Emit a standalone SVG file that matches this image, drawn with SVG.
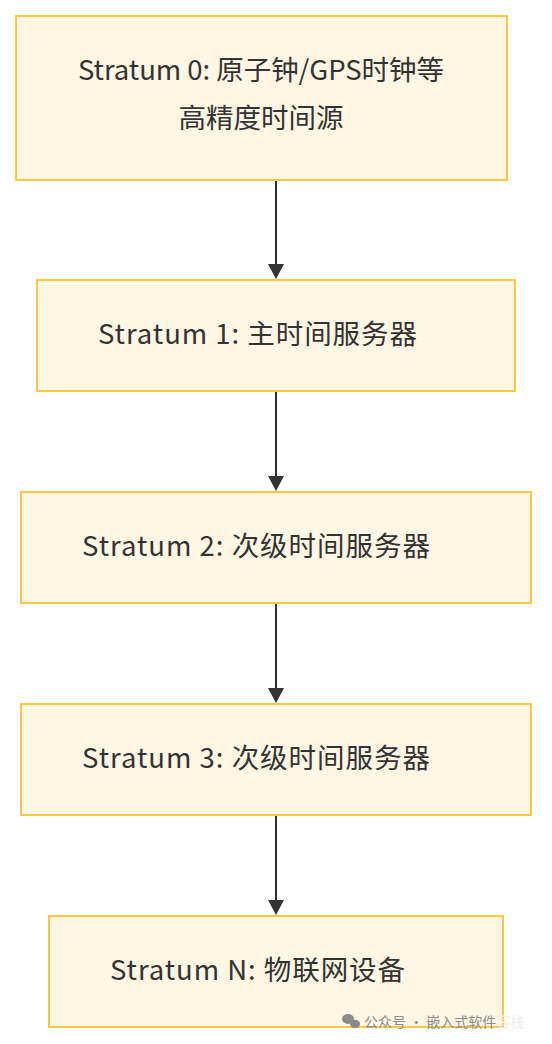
<svg xmlns="http://www.w3.org/2000/svg" width="552" height="1044" viewBox="0 0 552 1044">
<defs>
<style>
.node rect{fill:#fff6e3;stroke:#fcc842;stroke-width:2}
.lbl{font-family:"Noto Sans CJK SC","Noto Sans",sans-serif;font-size:27.5px;fill:#333;text-anchor:middle;dominant-baseline:central}
.edge{stroke:#333;stroke-width:2;fill:none}
.head{fill:#333}
.wm{font-family:"Noto Sans CJK SC",sans-serif;font-size:14px}
</style>
</defs>
<rect width="552" height="1044" fill="#fff"/>
<g id="connectors">
<line class="edge" x1="276" y1="181" x2="276" y2="264"/><path class="head" d="M268,264 L284,264 L276,279 Z"/>
<line class="edge" x1="276" y1="392" x2="276" y2="476"/><path class="head" d="M268,476 L284,476 L276,491 Z"/>
<line class="edge" x1="276" y1="604" x2="276" y2="688"/><path class="head" d="M268,688 L284,688 L276,703 Z"/>
<line class="edge" x1="276" y1="816" x2="276" y2="900"/><path class="head" d="M268,900 L284,900 L276,915 Z"/>
</g>
<g id="s0" class="node"><rect x="16" y="16" width="491" height="164"/>
<text class="lbl" x="261" y="68" textLength="366" lengthAdjust="spacing">Stratum 0: 原子钟/GPS时钟等</text>
<text class="lbl" x="261" y="116">高精度时间源</text></g>
<g id="s1" class="node"><rect x="37" y="280" width="478" height="111"/>
<text class="lbl" x="257.5" y="332" textLength="319" lengthAdjust="spacing">Stratum 1: 主时间服务器</text></g>
<g id="s2" class="node"><rect x="21" y="492" width="510" height="111"/>
<text class="lbl" x="256" y="544" textLength="348" lengthAdjust="spacing">Stratum 2: 次级时间服务器</text></g>
<g id="s3" class="node"><rect x="21" y="704" width="510" height="111"/>
<text class="lbl" x="256" y="756" textLength="348" lengthAdjust="spacing">Stratum 3: 次级时间服务器</text></g>
<g id="sN" class="node"><rect x="49" y="916" width="454" height="111"/>
<text class="lbl" x="257.5" y="968" textLength="295" lengthAdjust="spacing">Stratum N: 物联网设备</text></g>
<g id="watermark">
<ellipse cx="348" cy="1019" rx="6" ry="5" fill="#8a8a8a"/>
<ellipse cx="355" cy="1024" rx="5" ry="4.2" fill="#8a8a8a"/>
<text class="wm" x="364" y="1027"><tspan fill="#8c8c8c">公众号 · 嵌入式软件</tspan><tspan fill="#ececec">客栈</tspan></text>
</g>
</svg>
